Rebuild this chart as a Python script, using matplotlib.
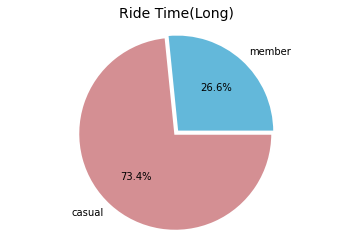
import matplotlib
matplotlib.use('Agg')
import matplotlib.pyplot as plt

labels = ['member', 'casual']
shares = [26.6, 73.4]
colors = ['#63b8da', '#d48f93']
explode = [0.03, 0]

fig, ax = plt.subplots(figsize=(349/72, 248/72), dpi=72)
ax.pie(shares, labels=labels, colors=colors, explode=explode, autopct='%1.1f%%',
       wedgeprops={'edgecolor': 'white', 'linewidth': 2})
ax.set_title('Ride Time(Long)', fontsize=14, pad=7)
ax.axis('equal')
fig.subplots_adjust(left=0.115, right=0.895, bottom=0.03, top=0.9)
fig.savefig('out.png', dpi=72)
